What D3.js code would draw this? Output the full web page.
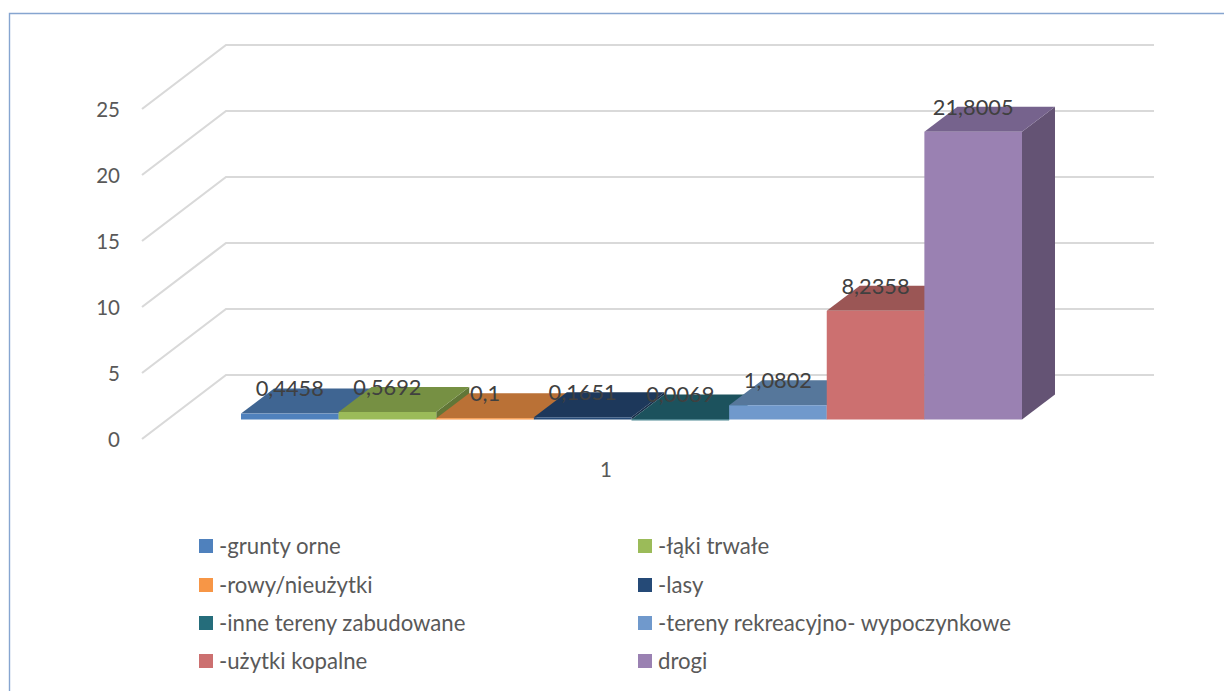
<!DOCTYPE html>
<html lang="pl"><head><meta charset="utf-8">
<script src="https://cdn.jsdelivr.net/npm/d3@7/dist/d3.min.js"></script>
<style>html,body{margin:0;padding:0;background:#fff}svg{display:block}text{font-family:Lato,"Open Sans",sans-serif}</style>
</head><body><script>
const categories = ["-grunty orne","-łąki trwałe","-rowy/nieużytki","-lasy","-inne tereny zabudowane","-tereny rekreacyjno- wypoczynkowe","-użytki kopalne","drogi"];
const values = [0.4458,0.5692,0.1,0.1651,0.0069,1.0802,8.2358,21.8005];
const valueLabels = ["0,4458","0,5692","0,1","0,1651","0,0069","1,0802","8,2358","21,8005"];
const frontColors = ["#4f81bd","#9bbb59","#f79646","#254a77","#256d7b","#7099cc","#cc7070","#9a81b2"];
const topColors = ["#3f6592","#769043","#ba7136","#1d385b","#1c525d","#56779b","#9b5655","#76638d"];
const sideColors = ["#345478","#617637","#985c2c","#182e4a","#17444d","#47627f","#7f4746","#645374"];
const ticks = [0,5,10,15,20,25];
const axisCategory = "1";

const W=1224,H=691;
const svg=d3.select("body").append("svg").attr("width",W).attr("height",H);
const y=d3.scaleLinear().domain([0,25]).range([0,330]);
const x=d3.scaleBand().domain(categories).range([241,1022]);
const backX0=226,backX1=1154,backY0=375,frontX=142,frontY0=439,sideDy=64;
const barY0=419.5,dx=33,dy=25;

svg.append("path").attr("d",`M9.5,${H}V13.5H${W}`).attr("fill","none").attr("stroke","#86a5d0").attr("stroke-width",1.4);

const grid=svg.append("g").attr("stroke","#d9d9d9").attr("stroke-width",2.2).attr("fill","none");
grid.selectAll("path").data(ticks).join("path")
  .attr("d",t=>`M${frontX},${frontY0-y(t)}L${backX0},${frontY0-y(t)-sideDy}H${backX1}`);

svg.append("g").selectAll("text").data(ticks).join("text")
  .attr("x",120).attr("y",t=>frontY0-y(t)+0.5).attr("dy","0.36em")
  .attr("text-anchor","end").attr("font-size",20.5).attr("fill","#595959").text(t=>t);

const bars=svg.append("g").selectAll("g").data(categories).join("g");
bars.each(function(c,i){
  const g=d3.select(this),x0=x(c),x1=x0+x.bandwidth(),h=y(values[i]),t=barY0-h;
  g.append("path").attr("fill",sideColors[i])
    .attr("d",`M${x1},${t}L${x1+dx},${t-dy}V${barY0-dy}L${x1},${barY0}Z`);
  g.append("path").attr("fill",topColors[i])
    .attr("d",`M${x0},${t}L${x0+dx},${t-dy}H${x1+dx}L${x1},${t}Z`);
  g.append("rect").attr("fill",frontColors[i])
    .attr("x",x0).attr("y",t).attr("width",x.bandwidth()).attr("height",Math.max(h,1));
});

svg.append("g").selectAll("text").data(categories).join("text")
  .attr("x",c=>x(c)+x.bandwidth()/2)
  .attr("y",(c,i)=>barY0-dy-y(values[i])).attr("dy","0.36em")
  .attr("text-anchor","middle").attr("font-size",21.8).attr("fill","#404040")
  .text((c,i)=>valueLabels[i]);

svg.append("text").attr("x",606).attr("y",470).attr("dy","0.36em")
  .attr("text-anchor","middle").attr("font-size",20.5).attr("fill","#595959").text(axisCategory);

const rowY=[546,585,623,661],colX=[199,638];
const leg=svg.append("g").selectAll("g").data(categories).join("g")
  .attr("transform",(c,i)=>`translate(${colX[i%2]},${rowY[Math.floor(i/2)]})`);
leg.append("rect").attr("x",0).attr("y",-7).attr("width",14).attr("height",14).attr("fill",(c,i)=>frontColors[i]);
leg.append("text").attr("x",20).attr("dy","0.36em").attr("font-size",22.2).attr("fill","#595959").text(c=>c);
</script></body></html>
